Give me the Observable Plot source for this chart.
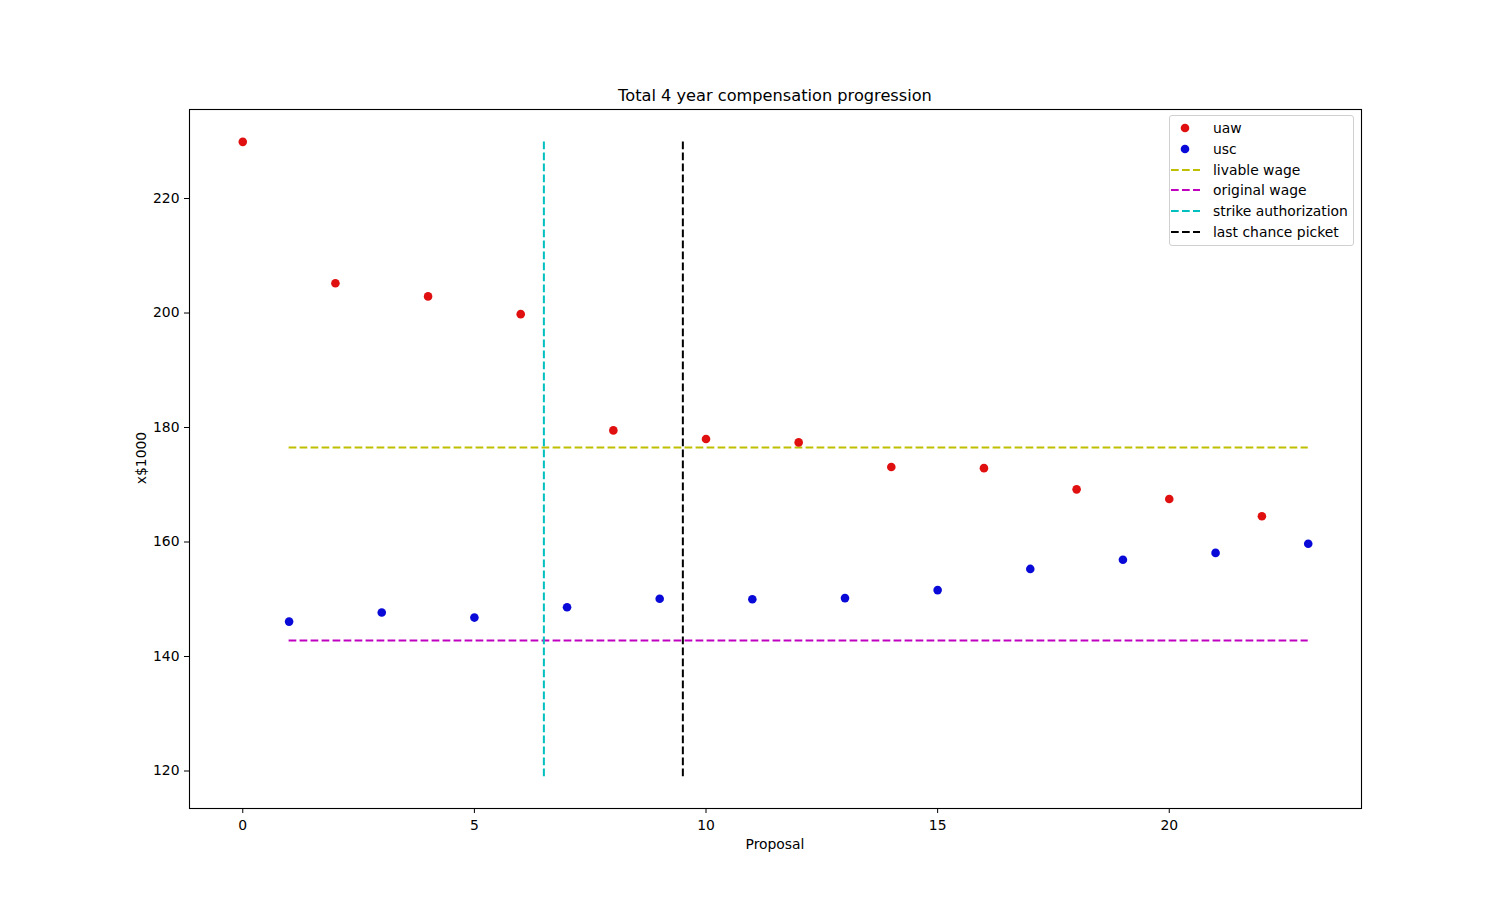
<!DOCTYPE html>
<html>
<head>
<meta charset="utf-8">
<script src="https://cdn.jsdelivr.net/npm/d3@7"></script>
<script src="https://cdn.jsdelivr.net/npm/@observablehq/plot@0.6"></script>
<style>
  body { margin: 0; background: #fff; font-family: "DejaVu Sans", sans-serif; }
  #wrap { position: relative; width: 1512px; height: 909px; }
  #wrap svg { position: absolute; left: 0; top: 0; }
  .lbl { position: absolute; font-size: 13.9px; color: #000; white-space: nowrap; }
  #title { position: absolute; left: 0; width: 1550px; text-align: center; top: 86px; font-size: 16.2px; }
  #legend { position: absolute; left: 1169px; top: 115px; width: 185px; height: 131px;
            border: 1px solid #d0d0d0; border-radius: 3px; background: rgba(255,255,255,0.8); box-sizing: border-box; }
  .row { position: absolute; left: 0; height: 20px; font-size: 13.9px; }
  .row span { position: absolute; left: 43px; top: 0; white-space: nowrap; line-height: 20px; }
  .row svg { position: absolute; left: 4px; top: 0; }
</style>
</head>
<body>
<div id="wrap">
  <div id="title">Total 4 year compensation progression</div>
</div>
<script>
const uawX = [0, 2, 4, 6, 8, 10, 12, 14, 16, 18, 20, 22];
const uawY = [229.9, 205.2, 202.9, 199.8, 179.5, 178.0, 177.4, 173.1, 172.9, 169.2, 167.5, 164.5];
const uscX = [1, 3, 5, 7, 9, 11, 13, 15, 17, 19, 21, 23];
const uscY = [146.1, 147.7, 146.8, 148.6, 150.1, 150.0, 150.2, 151.6, 155.3, 156.9, 158.1, 159.7];
const livableWage = 176.5;
const originalWage = 142.8;
const wageSpan = [1, 23];
const strikeAuth = 6.5;
const lastChance = 9.5;
const vSpan = [119, 230];
const xTicks = [0, 5, 10, 15, 20];
const yTicks = [120, 140, 160, 180, 200, 220];
const seriesNames = ["uaw", "usc", "livable wage", "original wage", "strike authorization", "last chance picket"];
const seriesColors = ["#e01010", "#0a0ad8", "#bfbf00", "#bf00bf", "#00bfbf", "#000000"];
const seriesKinds = ["dot", "dot", "line", "line", "line", "line"];

const uaw = uawX.map((x, i) => ({x, y: uawY[i]}));
const usc = uscX.map((x, i) => ({x, y: uscY[i]}));
const hlines = [
  {y: livableWage, c: seriesColors[2]},
  {y: originalWage, c: seriesColors[3]}
];
const vlines = [
  {x: strikeAuth, c: seriesColors[4]},
  {x: lastChance, c: seriesColors[5]}
];
const dash = "7.7,3.3";

const chart = Plot.plot({
  width: 1512,
  height: 909,
  marginLeft: 189,
  marginRight: 151,
  marginTop: 109,
  marginBottom: 101,
  style: {fontFamily: "DejaVu Sans, sans-serif", fontSize: "13.9px", background: "transparent", color: "#000"},
  x: {domain: [-1.15, 24.15], ticks: xTicks, tickSize: 5, tickPadding: 7, label: null, tickFormat: d => String(d)},
  y: {domain: [113.45, 235.55], ticks: yTicks, tickSize: 5, tickPadding: 5, label: null, tickFormat: d => String(d)},
  marks: [
    ...hlines.map(h => Plot.ruleY([h], {y: "y", x1: wageSpan[0], x2: wageSpan[1], stroke: h.c, strokeWidth: 2, strokeDasharray: dash})),
    ...vlines.map(v => Plot.ruleX([v], {x: "x", y1: vSpan[0], y2: vSpan[1], stroke: v.c, strokeWidth: 2, strokeDasharray: dash})),
    Plot.dot(uaw, {x: "x", y: "y", r: 4.3, fill: seriesColors[0], stroke: "none"}),
    Plot.dot(usc, {x: "x", y: "y", r: 4.3, fill: seriesColors[1], stroke: "none"}),
    Plot.frame({stroke: "#000", strokeWidth: 1.1})
  ]
});
const wrap = document.getElementById("wrap");
wrap.insertBefore(chart, wrap.firstChild);

const xl = document.createElement("div");
xl.className = "lbl"; xl.textContent = "Proposal";
xl.style.left = "775px"; xl.style.top = "836px"; xl.style.transform = "translateX(-50%)";
wrap.appendChild(xl);

const yl = document.createElement("div");
yl.className = "lbl"; yl.textContent = "x$1000";
yl.style.left = "141px"; yl.style.top = "458px"; yl.style.transform = "translate(-50%,-50%) rotate(-90deg)";
wrap.appendChild(yl);

const lg = document.createElement("div");
lg.id = "legend";
seriesNames.forEach((name, i) => {
  const row = document.createElement("div");
  row.className = "row";
  row.style.top = (2 + i * 20.8) + "px";
  const svg = d3.create("svg").attr("width", 32).attr("height", 20);
  if (seriesKinds[i] === "dot") {
    svg.append("circle").attr("cx", 15).attr("cy", 10).attr("r", 4.3).attr("fill", seriesColors[i]);
  } else {
    svg.append("line").attr("x1", 1).attr("x2", 30).attr("y1", 10).attr("y2", 10)
      .attr("stroke", seriesColors[i]).attr("stroke-width", 2).attr("stroke-dasharray", dash);
  }
  row.appendChild(svg.node());
  const sp = document.createElement("span");
  sp.textContent = name;
  row.appendChild(sp);
  lg.appendChild(row);
});
wrap.appendChild(lg);
</script>
</body>
</html>
